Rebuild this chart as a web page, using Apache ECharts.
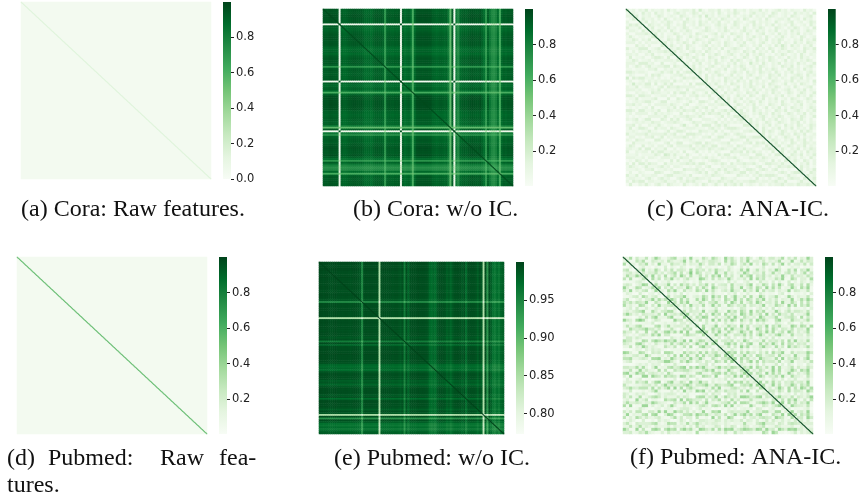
<!DOCTYPE html>
<html>
<head>
<meta charset="utf-8">
<script src="https://cdn.jsdelivr.net/npm/echarts@6/dist/echarts.min.js"></script>
<style>html,body{margin:0;background:#fff}#chart{width:862px;height:494px}</style>
</head>
<body>
<div id="chart"></div>
<script>
// matplotlib Greens
const greens = ['#f7fcf5','#e5f5e0','#c7e9c0','#a1d99b','#74c476','#41ab5d','#238b45','#006d2c','#00441b'];

// colorbar ticks
const ticksRawCora = [0, 0.2, 0.4, 0.6, 0.8];
const ticksUnit = [0.2, 0.4, 0.6, 0.8];
const ticksPubmedNoIc = [0.8, 0.85, 0.9, 0.95];

// flat backgrounds of the raw feature panels
const coraRawOff = [0.03];
const pubmedRawOff = [0.035];

// diagonal strength
const diagonals = { a: 0.15, b: 0.98, c: 1, d: 0.55, e: 1, f: 1 };

// per row levels, read along the rows/columns of the w/o IC panels (they are symmetric)
const coraNoIcLevels = [
  .965,.965,.965,.985,.985,.975,.975,.965,.03,.945,.93,.93,.945,.96,.965,.975,.975,.965,.965,.97,
  .945,.92,.92,.93,.91,.94,.96,.965,.96,.965,.945,.72,.945,.96,.95,.945,.96,.95,.965,.02,
  .945,.91,.93,.945,.90,.62,.93,.985,.99,.99,.985,.99,.99,.985,.985,.95,.945,.93,.94,.95,
  .945,.93,.945,.85,.55,.96,.03,.85,.78,.93,.945,.96,.945,.965,.975,.985,.975,.97,.965,.985,
  .945,.90,.72,.945,.85,.78,.76,.80,.90,.62,.93,.96,.945,.965,.96,.965
];
const pubmedNoIcLevels = [
  .999,.999,.997,.999,.999,.997,.996,.997,.999,.997,
  .996,.997,.996,.997,.997,.996,.994,.996,.997,.996,
  .994,.99,.95,.996,.997,.996,.997,.997,.996,.996,
  .996,.85,.996,.997,.997,.996,.997,.996,.994,.996,
  .996,.994,.99,.996,.96,.996,.98,.996,.997,.997,
  .997,.999,.997,.997,.997,.996,.994,.98,.975,.98,
  .975,.99,.996,.997,.996,.994,.985,.99,.98,.99,
  .996,.996,.997,.996,.99,.996,.975,.996,.997,.996,
  .996,.994,.985,.996,.99,.85,.996,.94,.996,.985,
  .97,.965,.975,.965,.98,.985
];

// upper triangles of the ANA-IC panels, one digit per cell
const coraAnaScale = 24;
const coraAnaRows = [
"423132413223142312332415213324123142231322413123423132214231",
"33214231423121342312431322314213243121342232143123214232314",
"2413231243123214321324152313224131232413231432123143212341",
"314223131421323142213124231432213143122314212332412314231",
"32413213243121432314231324123143212341323214212341231243",
"2143231342132412314322134231243123142313241323142123142",
"324123142312431232143123241323142132431214321324312314",
"13242314213243112343213243121342314231324123142312432",
"2413122431323143212341321432314212341231423132413231",
"423132143124231341232413124313242314213242132143123",
"32143242131243213432123142313421324132431213241324",
"2413132431421324123143213241231342132413214231432",
"324213143212341323143212432132412314253142313241",
"13243142311324231412343213214231431243123214324",
"2413213423143213124232143241323141322431324123",
"312342132413243123421324132431213243123142132",
"24132431214321432131243124132431321423142312",
"3123142313241321424312314231432124132132431",
"231324123143213241321523142132413231423124",
"32413213421324132431231432132143241312342",
"1423143123241231342132413243121432314231",
"324213243121342314231432314213241321342",
"23141324312413213421321432413123431423",
"3142312143232413124312423132143241321",
"241323142314231423132143213241322314",
"13242131432132413231432124123143213",
"3214323124132432141324312314212341",
"241313243123142313243123421324132",
"32142313214324123142312431243124",
"1423124231431243213241321423142",
"324132413213241324123143212431",
"23142132431421323142132431324",
"3124313241321432143213241232",
"241232143124132413143231243",
"32413142313214324123421324",
"1432132423142312431324132",
"243121342132431232143124",
"32413241324132143242131",
"1423124312432132413132",
"324132413214231431243",
"23142132413241323142",
"3142431243123142431",
"241321342314324123",
"32413124321413232",
"1243213241324131",
"324132143124323",
"23412431324132",
"3142132413243",
"241324131423",
"32143241324",
"1423132142",
"324214313",
"23132413",
"3142312",
"241324",
"32143",
"1423",
"324",
"23",
"3"
];

const pubmedAnaScale = 18;
// lighter rows/columns that give the panel its white lattice
const pubmedAnaLevels = [
  1,1,1,.5,1,1,1,1,.55,1, 1,1,.5,1,1,1,1,.55,1,1, 1,1,.5,1,1,1,1,.55,1,1,
  1,.5,1,1,1,1,.55,1,1,1, 1,.5,1,1,1,1,.55,1,1,1, 1,.5,1,1,1,.55,1,1,1,1
];
const pubmedAnaRows = [
"326142251374213562241732153264217352142631253174236142513273",
"41253612432615324371425132743216253142716324152361427135243",
"2514362317421536241352631742513264135272316425137241362514",
"31462514237153264123571462315274136251423715326142537132",
"2371526314251743162534172635142136271452316274135261437",
"14263527134625138264135172462315274163251462317524136",
"253714261352741632514263715241362571435261327415263",
"31625143726135241763251462731524172635142537216413",
"4251736214253162713524361725314625173426152371426",
"162537142635271436251374162532471326415273146235",
"37142516327415263174253162471352641736251427316",
"2516374152326417352164273516243715264132571462",
"416253714263152473261537142635174263157241362",
"25136472153264173526137425163274153621473152",
"3741625136274152316427351642537162413527146",
"152637142531746235174261352741362517426315",
"36241753261472531642735146237152643172615",
"4153726142537163241576231462537142671352",
"251463271536241735264172536142731652473",
"37162514273516243175264351724163725142",
"1425376214153627415326174253612745316",
"362514271635274163251746321572416352",
"24137526147352164271536241753264137",
"5162437152634172516342715362417536",
"271463526173542613741526314725163",
"36152742631574261352746135274162",
"1427356214736251473162573416253",
"352614725136274153627142635174",
"26174351627415326173425162743",
"4125736241573162547316254173",
"362514273615247351624173562",
"15274362517362415273614253",
"3746152637142516347215263",
"261537241652374162531742",
"47163526174352617243561",
"3251472615374261537142",
"164253716243715264173",
"25371642537162435172",
"4716253147261537426",
"362541736251473162",
"15274163527416352",
"4625137426153742",
"271536241735264",
"36147251637425",
"5261374261537",
"174253162473",
"36152741635",
"2473625173",
"415263741",
"37162534",
"2517463",
"461352",
"27154",
"3625",
"174",
"26",
"3",
"2",
"3",
"4"
];

const captions = [
  ['(a) Cora: Raw features.', 21, 212],
  ['(b) Cora: w/o IC.', 353, 212],
  ['(c) Cora: ANA-IC.', 647, 212],
  ['(d)', 7, 461], ['Pubmed:', 48, 461], ['Raw', 160, 461], ['fea-', 219, 461],
  ['tures.', 7, 488],
  ['(e) Pubmed: w/o IC.', 334, 461],
  ['(f) Pubmed: ANA-IC.', 630, 460]
];

// matrices the heatmaps need, built from the arrays above
function levelMatrix(levels) {
  const out = [];
  levels.forEach((a, i) => levels.forEach((b, j) => {
    out.push([j, i, a * b + (1 - a) * (1 - b)]);
  }));
  return { n: levels.length, cells: out };
}
function triangleMatrix(rows, scale, levels) {
  const n = rows.length, out = [];
  for (let i = 0; i < n; i++) {
    const row = rows[i];
    for (let j = i; j < n; j++) {
      // some typed rows run short, wrap round them
      let v = Number(row[(j - i) % row.length]) / scale;
      if (levels) v *= levels[i] * levels[j];
      out.push([j, i, v]);
      if (i !== j) out.push([i, j, v]);
    }
  }
  return { n, cells: out };
}
function flatMatrix(value) {
  return { n: 1, cells: [[0, 0, value[0]]] };
}

const panels = [
  { m: flatMatrix(coraRawOff), diag: diagonals.a, x: 21, y: 2, w: 190, h: 177, bar: 223, min: 0, max: 0.998, ticks: ticksRawCora, digits: 1 },
  { m: levelMatrix(coraNoIcLevels), diag: diagonals.b, x: 323, y: 9, w: 190, h: 177, bar: 525, min: 0.005, max: 1, ticks: ticksUnit, digits: 1 },
  { m: triangleMatrix(coraAnaRows, coraAnaScale), diag: diagonals.c, x: 626, y: 9, w: 190, h: 177, bar: 828, min: 0.005, max: 1, ticks: ticksUnit, digits: 1 },
  { m: flatMatrix(pubmedRawOff), diag: diagonals.d, x: 17, y: 257, w: 190, h: 177, bar: 219, min: 0.005, max: 1, ticks: ticksUnit, digits: 1 },
  { m: levelMatrix(pubmedNoIcLevels), diag: diagonals.e, x: 319, y: 262, w: 185, h: 172, bar: 516, min: 0.773, max: 1, ticks: ticksPubmedNoIc, digits: 2 },
  { m: triangleMatrix(pubmedAnaRows, pubmedAnaScale, pubmedAnaLevels), diag: diagonals.f, x: 623, y: 257, w: 190, h: 177, bar: 825, min: 0.005, max: 1, ticks: ticksUnit, digits: 1 }
];

const grid = [], xAxis = [], yAxis = [], series = [], visualMap = [];
const fineCount = 380;
const hiddenCat = n => ({ type: 'category', show: false, data: Array.from({ length: n }, (_, i) => i) });
const barFill = new echarts.graphic.LinearGradient(0, 1, 0, 0,
  greens.map((color, i) => ({ offset: i / (greens.length - 1), color })));

panels.forEach(p => {
  const rect = { left: p.x, top: p.y, width: p.w, height: p.h };
  const first = series.length;
  // texture
  grid.push({ ...rect });
  xAxis.push({ ...hiddenCat(p.m.n), gridIndex: grid.length - 1 });
  yAxis.push({ ...hiddenCat(p.m.n), gridIndex: grid.length - 1, inverse: true });
  series.push({ type: 'heatmap', xAxisIndex: xAxis.length - 1, yAxisIndex: yAxis.length - 1, data: p.m.cells, progressive: 0, silent: true });
  // diagonal on a finer grid so it stays thin
  const diagCells = [];
  for (let i = 0; i < fineCount; i++) diagCells.push([i, i, p.diag]);
  grid.push({ ...rect });
  xAxis.push({ ...hiddenCat(fineCount), gridIndex: grid.length - 1 });
  yAxis.push({ ...hiddenCat(fineCount), gridIndex: grid.length - 1, inverse: true });
  series.push({ type: 'heatmap', xAxisIndex: xAxis.length - 1, yAxisIndex: yAxis.length - 1, data: diagCells, progressive: 0, silent: true });
  // colour mapping, the bar itself is the grid background below
  visualMap.push({
    type: 'continuous', show: false, min: p.min, max: p.max, seriesIndex: [first, first + 1],
    inRange: { color: greens }
  });
  grid.push({ left: p.bar, top: p.y, width: 8, height: p.h, show: true, backgroundColor: barFill, borderWidth: 0 });
  xAxis.push({ type: 'value', show: false, min: 0, max: 1, gridIndex: grid.length - 1 });
  yAxis.push({
    type: 'value', gridIndex: grid.length - 1, position: 'right', min: p.min, max: p.max,
    splitLine: { show: false }, axisLine: { show: false, onZero: false },
    axisTick: { show: true, length: 3, customValues: p.ticks, lineStyle: { color: '#222', width: 1 } },
    axisLabel: { show: true, customValues: p.ticks, margin: 5, color: '#222', fontFamily: 'DejaVu Sans', fontSize: 11.5, formatter: v => v.toFixed(p.digits) }
  });
});

const chart = echarts.init(document.getElementById('chart'));
chart.setOption({
  animation: false,
  backgroundColor: '#fff',
  grid, xAxis, yAxis, visualMap, series,
  graphic: captions.map(c => ({
    type: 'text', left: c[1], top: c[2] - 14, silent: true,
    style: { text: c[0], fontFamily: 'Liberation Serif', fontSize: 24, fill: '#111' }
  }))
});
</script>
</body>
</html>
